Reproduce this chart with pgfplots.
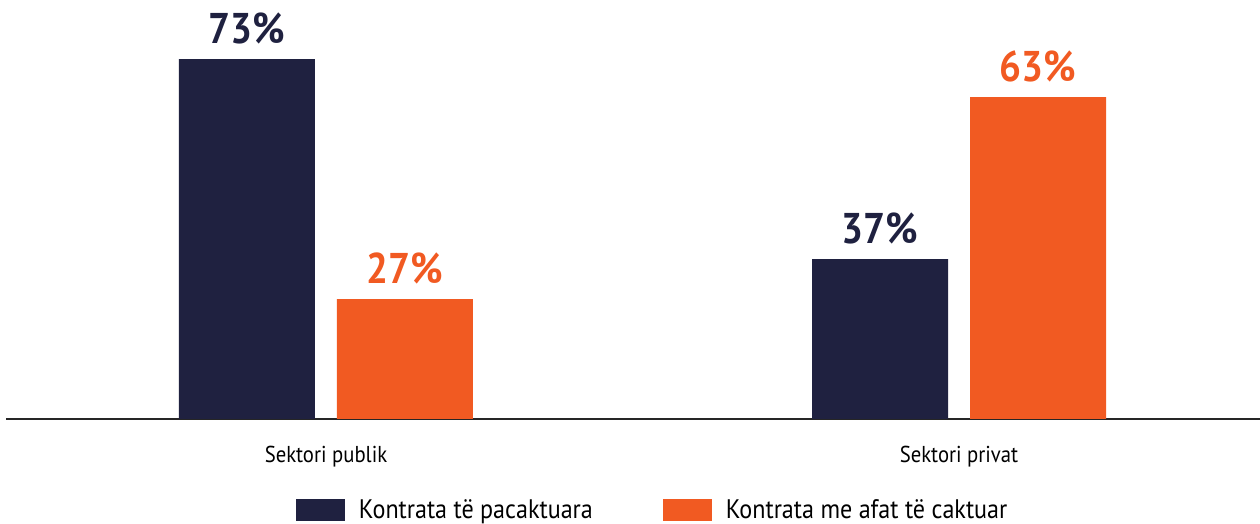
\documentclass[border=0pt]{standalone}
\usepackage{pgfplots}
\pgfplotsset{compat=1.18}
\usepackage{fontspec}
\setmainfont{PT Sans}[FakeStretch=0.9]
\definecolor{darknavy}{HTML}{1F2140}
\definecolor{orng}{HTML}{F15A22}
\begin{document}
\begin{tikzpicture}
\useasboundingbox (0,0) rectangle (630pt,262pt);
\begin{axis}[
  at={(3pt,52.5pt)}, anchor=south west,
  scale only axis, width=627pt, height=209.5pt,
  ybar=11pt, bar width=68pt,
  xmin=-0.5055, xmax=1.4755, ymin=0, ymax=84.96,
  axis x line=bottom, axis y line=none,
  axis line style={-, black!85, line width=0.6pt},
  xtick={0,1}, xticklabels={Sektori publik, Sektori privat},
  xtick style={draw=none},
  xticklabel style={font=\fontsize{11.5}{13}\selectfont, text=black, yshift=-8pt},
  point meta=explicit,
  /pgf/number format/assume math mode=true,
  nodes near coords={\pgfmathprintnumber{\pgfplotspointmeta}\%},
  nodes near coords style={font=\fontsize{21.5}{23}\selectfont\bfseries, yshift=4pt},
  legend columns=2,
  legend style={draw=none, at={(0.5165,-0.2175)}, anchor=center, inner sep=0pt,
    font=\fontsize{13.4}{15}\selectfont,
    /tikz/every odd column/.append style={column sep=5pt},
    /tikz/every even column/.append style={column sep=33pt}},
  legend image code/.code={\fill[#1] (0pt,-5.5pt) rectangle (24.5pt,5.5pt);},
]
\addplot[fill=darknavy, draw=none, every node near coord/.append style={text=darknavy}]
  coordinates {(0,72.99) [73] (1,32.44) [37]};
\addplot[fill=orng, draw=none, every node near coord/.append style={text=orng}]
  coordinates {(0,24.33) [27] (1,65.29) [63]};
\legend{Kontrata të pacaktuara, Kontrata me afat të caktuar}
\end{axis}
\end{tikzpicture}
\end{document}
